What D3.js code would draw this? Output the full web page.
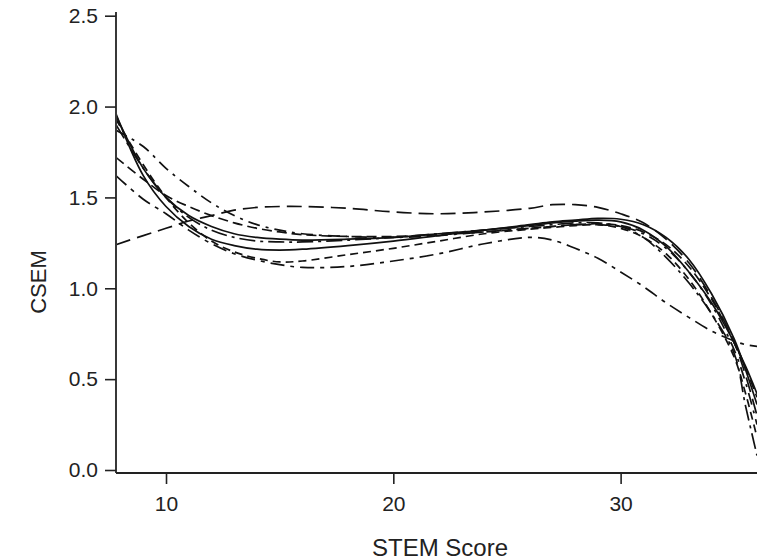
<!DOCTYPE html>
<html>
<head>
<meta charset="utf-8">
<title>CSEM by STEM Score</title>
<script src="https://cdn.jsdelivr.net/npm/d3@7"></script>
<style>
body { margin: 0; background: #fff; }
svg { display: block; }
.axis text { font-family: "Liberation Sans", Arial, sans-serif; fill: #222; }
</style>
</head>
<body>
<script>
// STEM score grid shared by all curves
var scores = [7.8, 9, 10, 11, 12, 13, 14, 15, 16, 18, 20, 22, 24, 26, 27, 28, 29, 30, 31, 32, 33, 34, 35, 35.5, 36];

// CSEM curves
var solid1 = [1.96,1.62,1.45,1.34,1.27,1.235,1.215,1.21,1.215,1.235,1.26,1.29,1.32,1.345,1.36,1.37,1.375,1.365,1.32,1.23,1.09,0.92,0.70,0.57,0.42];
var solid2 = [1.95,1.66,1.50,1.40,1.34,1.30,1.28,1.27,1.265,1.27,1.28,1.30,1.32,1.35,1.365,1.375,1.385,1.38,1.35,1.28,1.16,0.97,0.72,0.55,0.36];
var longDash = [1.24,1.29,1.33,1.37,1.40,1.43,1.445,1.45,1.45,1.44,1.42,1.41,1.42,1.44,1.46,1.46,1.445,1.41,1.36,1.27,1.14,0.95,0.70,0.52,0.30];
var dashDot1 = [1.62,1.49,1.41,1.32,1.245,1.19,1.155,1.13,1.115,1.12,1.15,1.19,1.245,1.28,1.265,1.22,1.165,1.09,1.01,0.92,0.84,0.765,0.71,0.69,0.68];
var dashDot2 = [1.87,1.78,1.66,1.56,1.47,1.40,1.35,1.32,1.30,1.285,1.28,1.29,1.31,1.33,1.34,1.35,1.35,1.34,1.30,1.22,1.09,0.91,0.66,0.48,0.25];
var dash3 = [1.72,1.60,1.51,1.45,1.40,1.36,1.33,1.31,1.295,1.285,1.285,1.295,1.31,1.33,1.34,1.35,1.355,1.345,1.31,1.24,1.12,0.94,0.70,0.56,0.40];
var dash5 = [1.93,1.68,1.50,1.36,1.26,1.20,1.165,1.145,1.15,1.185,1.22,1.26,1.30,1.325,1.335,1.345,1.35,1.33,1.28,1.19,1.05,0.86,0.62,0.42,0.18];
var dashDot3 = [1.90,1.66,1.50,1.39,1.32,1.28,1.26,1.255,1.255,1.265,1.28,1.30,1.32,1.34,1.35,1.36,1.36,1.34,1.28,1.17,1.03,0.86,0.64,0.35,0.08];

var xTicks = [10, 20, 30];
var yTicks = [0.0, 0.5, 1.0, 1.5, 2.0, 2.5];

var series = [
    { values: solid1,   dash: null },
    { values: solid2,   dash: null },
    { values: longDash, dash: "15,7" },
    { values: dashDot1, dash: "14,6,4,6" },
    { values: dashDot2, dash: "12,6,3,6" },
    { values: dash3,    dash: "10,5" },
    { values: dash5,    dash: "8,5" },
    { values: dashDot3, dash: "16,5,3,5" }
];

var w = 757;
var h = 560;

var xScale = d3.scaleLinear().domain([7.8, 36]).range([116, 757]);
var yScale = d3.scaleLinear().domain([0, 2.5]).range([470, 15.7]);

var svg = d3.select("body").append("svg")
    .attr("width", w)
    .attr("height", h);

var defs = svg.append("defs");
defs.append("clipPath").attr("id", "plot")
    .append("rect").attr("x", 117).attr("y", 0).attr("width", 640).attr("height", 473);

// curves
var line = d3.line()
    .x(function(d) { return xScale(d[0]); })
    .y(function(d) { return yScale(d[1]); })
    .curve(d3.curveCatmullRom.alpha(0.5));

svg.append("g")
    .attr("clip-path", "url(#plot)")
    .selectAll("path")
    .data(series)
    .enter()
    .append("path")
    .attr("d", function(s) {
        return line(scores.map(function(x, i) { return [x, s.values[i]]; }));
    })
    .attr("fill", "none")
    .attr("stroke", "#111")
    .attr("stroke-width", 1.7)
    .attr("stroke-dasharray", function(s) { return s.dash; });

// y axis
var yAxis = d3.axisLeft(yScale)
    .tickValues(yTicks)
    .tickFormat(d3.format(".1f"))
    .tickSize(11)
    .tickPadding(7);

var gy = svg.append("g")
    .attr("class", "axis")
    .attr("transform", "translate(116,0)")
    .call(yAxis);
gy.select(".domain").remove();
gy.selectAll("line").attr("stroke", "#222").attr("stroke-width", 1.6);
gy.selectAll("text").attr("font-size", "21px");
gy.append("line")
    .attr("x1", 0).attr("x2", 0)
    .attr("y1", 12).attr("y2", 473)
    .attr("stroke", "#222").attr("stroke-width", 1.8);

// x axis
var xAxis = d3.axisBottom(xScale)
    .tickValues(xTicks)
    .tickSize(11)
    .tickPadding(12);

var gx = svg.append("g")
    .attr("class", "axis")
    .attr("transform", "translate(0,473)")
    .call(xAxis);
gx.select(".domain").remove();
gx.selectAll("line").attr("stroke", "#222").attr("stroke-width", 1.6);
gx.selectAll("text").attr("font-size", "21px");
gx.append("line")
    .attr("x1", 116).attr("x2", 757)
    .attr("y1", 0).attr("y2", 0)
    .attr("stroke", "#222").attr("stroke-width", 1.8);

// axis titles
svg.append("text")
    .attr("class", "axis")
    .attr("x", 440)
    .attr("y", 556)
    .attr("text-anchor", "middle")
    .attr("font-family", "'Liberation Sans', Arial, sans-serif")
    .attr("font-size", "24px")
    .attr("fill", "#222")
    .text("STEM Score");

svg.append("text")
    .attr("transform", "translate(46,282) rotate(-90)")
    .attr("text-anchor", "middle")
    .attr("font-family", "'Liberation Sans', Arial, sans-serif")
    .attr("font-size", "22px")
    .attr("fill", "#222")
    .text("CSEM");
</script>
</body>
</html>
